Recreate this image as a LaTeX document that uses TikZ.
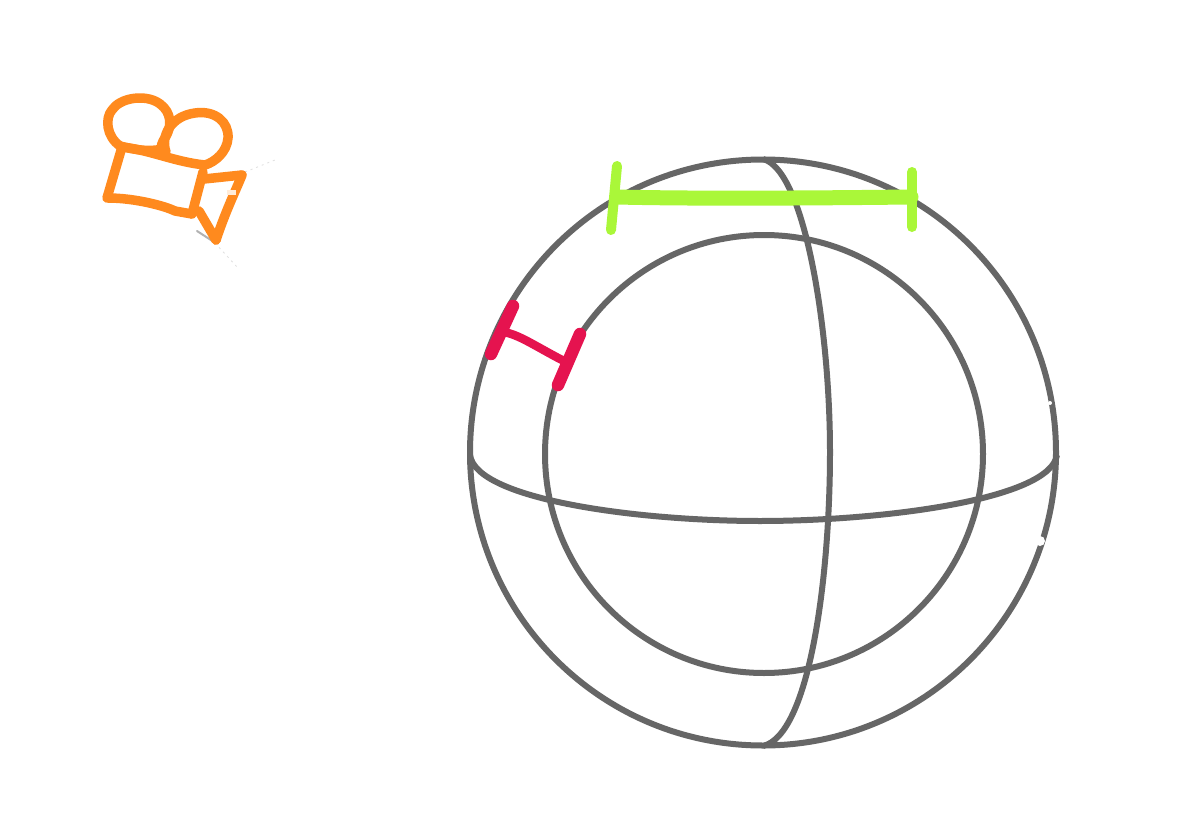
\documentclass[tikz,border=0pt]{standalone}
\definecolor{globegray}{HTML}{666666}
\definecolor{camorange}{HTML}{FF8A1E}
\definecolor{limeg}{HTML}{AAF739}
\definecolor{crimsonr}{HTML}{E5134F}
\tikzset{
  globe/.style={draw=globegray,line width=6pt},
  cam/.style={draw=camorange,line width=9.5pt,line cap=round,line join=round},
  limebar/.style={draw=limeg,line cap=round,line width=15pt},
  limetick/.style={draw=limeg,line cap=round,line width=10pt},
  redbar/.style={draw=crimsonr,line cap=round,line width=12.5pt},
  redlink/.style={draw=crimsonr,line cap=round,line width=8.5pt},
  smudge/.style={draw=gray!60,line width=2pt,line cap=round},
  faint/.style={draw=gray!25,line width=.8pt,dash pattern=on 2pt off 4pt}
}
\begin{document}
\begin{tikzpicture}[x=1pt,y=-1pt]
\useasboundingbox[fill=white] (0,0) rectangle (1178,816);
% globe
\draw[globe] (763,452.5) circle[radius=293];
\draw[globe] (764,454) circle[radius=219];
\draw[globe] (470,455) .. controls (476,500) and (640,521) .. (760,521) .. controls (880,521) and (1050,500) .. (1057,455);
\draw[globe] (763,159) .. controls (805,170) and (830,330) .. (830,452) .. controls (830,575) and (810,735) .. (763,746);
% white nicks
\fill[white] (1040,541) circle[radius=5];
\fill[white] (1050,403) circle[radius=2];
% lime bar
\draw[limebar] (617,197) .. controls (700,199) and (820,198) .. (911,197);
\draw[limetick] (617,166) -- (611,230);
\draw[limetick] (912,172) -- (912,227);
% red bar
\draw[redbar] (513,306) -- (491,354);
\draw[redbar] (580,334) -- (558,385);
\draw[redlink] (503,332) .. controls (518,334) and (535,346) .. (562,360);
% camera
\draw[smudge] (197,231) -- (214,242);
\draw[smudge] (240,178) -- (245,172);
\draw[faint] (215,243) -- (238,268);
\draw[faint] (245,172) -- (275,160);
\draw[cam] (120,146) .. controls (106,136) and (105,118) .. (112,110) .. controls (120,98) and (142,95) .. (155,101) .. controls (170,108) and (172,122) .. (168,132) .. controls (165,140) and (160,142) .. (162,149);
\draw[cam] (162,149) .. controls (150,152) and (135,150) .. (120,146);
\draw[cam] (166,152) .. controls (160,135) and (172,116) .. (195,113) .. controls (215,110) and (229,122) .. (228,138) .. controls (227,152) and (215,162) .. (205,165);
\draw[cam] (122,147) .. controls (150,150) and (175,162) .. (205,165);
\draw[cam] (122,147) -- (107,198);
\draw[cam] (108,198) .. controls (135,198) and (165,206) .. (175,211) -- (192,214);
\draw[cam] (203,172) -- (192,214);
\draw[cam] (204,179) -- (242,175);
\draw[cam] (242,175) .. controls (236,190) and (226,210) .. (216,240);
\draw[cam] (199,211) -- (216,240);
\fill[white!85!orange] (227,190) rectangle (236,195);
\end{tikzpicture}
\end{document}
